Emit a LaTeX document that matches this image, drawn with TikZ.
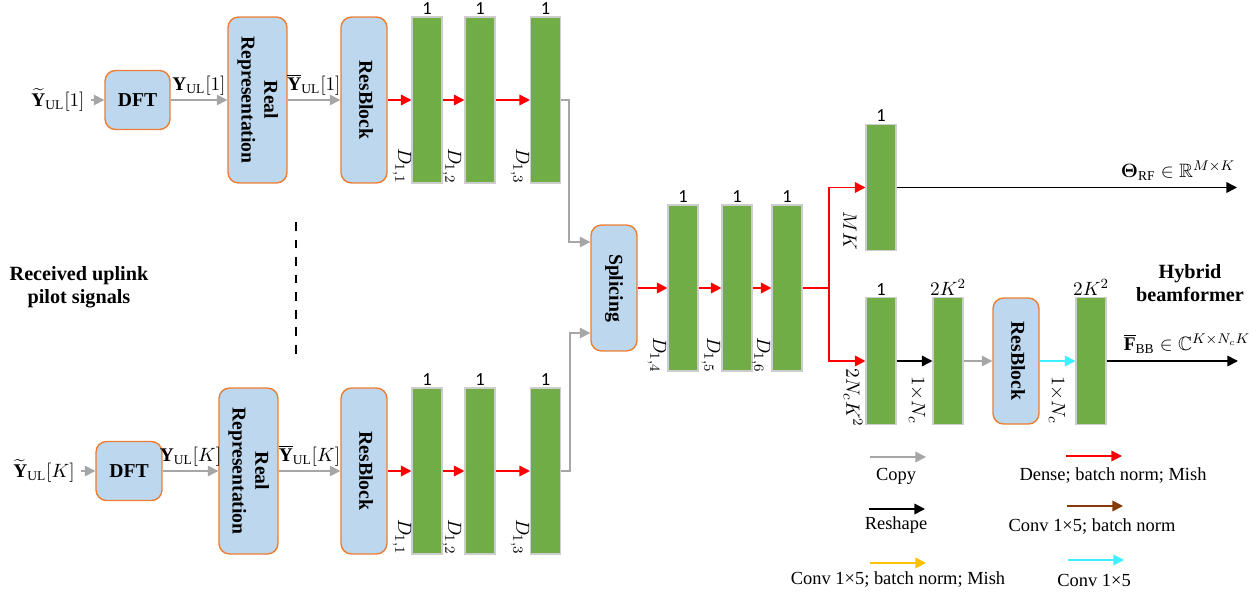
\documentclass[tikz,border=0pt]{standalone}
\usepackage{amsmath,amssymb}
\usepackage{graphicx}
\usepackage{fontspec}
\setmainfont{Liberation Serif}
\newfontfamily\numfont{Carlito}
\usepackage{tikz}
\usetikzlibrary{arrows.meta,positioning,calc}

\definecolor{boxblue}{RGB}{189,215,238}
\definecolor{boxorange}{RGB}{237,125,49}
\definecolor{layergreen}{RGB}{112,173,71}
\definecolor{layeredge}{RGB}{205,205,205}
\definecolor{copygray}{RGB}{166,166,166}
\definecolor{convbrown}{RGB}{132,60,12}
\definecolor{convorange}{RGB}{255,192,0}
\definecolor{convcyan}{RGB}{60,240,255}

\newcommand{\rottext}[1]{\rotatebox{-90}{\begin{tabular}{@{}c@{}}#1\end{tabular}}}

\begin{document}
\begin{tikzpicture}[x=0.02cm, y=-0.02cm, font=\fontsize{11}{13}\selectfont]
% Define styles
\tikzstyle{procbox} = [rectangle, draw=boxorange, fill=boxblue, rounded corners=6pt, line width=0.8pt, inner sep=0pt, font=\fontsize{11.2}{13}\selectfont\bfseries, align=center]
\tikzstyle{dftbox} = [procbox, minimum width=1.3cm, minimum height=1.18cm]
\tikzstyle{realbox} = [procbox, minimum width=1.18cm, minimum height=3.32cm]
\tikzstyle{resbox} = [procbox, minimum width=0.92cm, minimum height=3.32cm]
\tikzstyle{layer} = [rectangle, draw=layeredge, fill=layergreen, line width=0.6pt, minimum width=0.6cm, minimum height=3.32cm, inner sep=0pt]
\tikzstyle{shortlayer} = [layer, minimum height=2.53cm]
\tikzstyle{numtext} = [font=\fontsize{10.5}{12}\selectfont\numfont, inner sep=1pt]
\tikzstyle{dimtext} = [rotate=-90, inner sep=0pt]
\tikzstyle{edgetext} = [above, inner sep=2pt, text=black]
\tikzstyle{legendtext} = [font=\fontsize{10.5}{12}\selectfont, inner sep=0pt]
\tikzstyle{titletext} = [font=\fontsize{11.5}{13}\selectfont\bfseries, align=center]
\tikzstyle{arrowbase} = [line width=0.9pt, -{Triangle[length=6pt,width=6pt]}]
\tikzstyle{copyarrow} = [arrowbase, color=copygray]
\tikzstyle{densearrow} = [arrowbase, color=red]
\tikzstyle{reshapearrow} = [arrowbase, color=black]
\tikzstyle{convbnarrow} = [arrowbase, color=convbrown]
\tikzstyle{convbnmisharrow} = [arrowbase, color=convorange]
\tikzstyle{convarrow} = [arrowbase, color=convcyan]

\useasboundingbox (0,0) rectangle (1259,595);

% Upper user branch
\node (yt1) at (58,100) {$\widetilde{\mathbf{Y}}_{\mathrm{UL}}[1]$};
\node[dftbox] (dft1) at (137.5,100) {DFT};
\node[realbox] (real1) at (257.5,100) {\rottext{Real\\Representation}};
\node[resbox] (res1) at (364,100) {\rottext{ResBlock}};
\node[layer] (b11) at (427,100) {};
\node[layer] (b12) at (480,100) {};
\node[layer] (b13) at (545.5,100) {};

% Lower user branch
\node (yt2) at (44,471) {$\widetilde{\mathbf{Y}}_{\mathrm{UL}}[K]$};
\node[dftbox, minimum width=1.32cm] (dft2) at (129,471) {DFT};
\node[realbox] (real2) at (248.5,471) {\rottext{Real\\Representation}};
\node[resbox] (res2) at (364,471) {\rottext{ResBlock}};
\node[layer] (b21) at (427,471) {};
\node[layer] (b22) at (480,471) {};
\node[layer] (b23) at (545.5,471) {};

% Received signals
\node[titletext] (recv) at (79,287) {Received uplink\\pilot signals};
\coordinate (dashtop) at (296,222);
\coordinate (dashbot) at (296,355);
\draw[line width=1pt, dash pattern=on 5pt off 5pt] (dashtop) -- (dashbot);

% Splicing and shared layers
\node[resbox, minimum height=2.52cm] (spl) at (614,288) {\rottext{Splicing}};
\node[layer] (b4) at (683,288) {};
\node[layer] (b5) at (737,288) {};
\node[layer] (b6) at (787,288) {};
\coordinate (split) at (829,288);

% Hybrid beamformer heads
\node[shortlayer] (mk) at (881,187.5) {};
\node[shortlayer] (fa) at (881,361) {};
\node[shortlayer] (fb) at (948,361) {};
\node[resbox, minimum height=2.52cm] (res3) at (1016,361) {\rottext{ResBlock}};
\node[shortlayer] (fc) at (1091,361) {};
\coordinate (thetaend) at (1237,187.5);
\coordinate (fbbend) at (1238,361);
\node[titletext] (hybrid) at (1190,283) {Hybrid\\beamformer};

% Layer sizes
\foreach \b in {b11,b12,b13,b21,b22,b23,b4,b5,b6,mk,fa}
  \node[numtext, above=0pt of \b] (n\b) {1};
\node[inner sep=1pt, above=0pt of fb] (nfb) {$2K^2$};
\node[inner sep=1pt, above=0pt of fc] (nfc) {$2K^2$};
\node[dimtext] (d11) at (402,166) {$D_{1,1}$};
\node[dimtext] (d12) at (452,166) {$D_{1,2}$};
\node[dimtext] (d13) at (520,166) {$D_{1,3}$};
\node[dimtext] (d21) at (402,537) {$D_{1,1}$};
\node[dimtext] (d22) at (452,537) {$D_{1,2}$};
\node[dimtext] (d23) at (520,537) {$D_{1,3}$};
\node[dimtext] (d4) at (657,355) {$D_{1,4}$};
\node[dimtext] (d5) at (711,355) {$D_{1,5}$};
\node[dimtext] (d6) at (761,355) {$D_{1,6}$};
\node[dimtext] (dmk) at (850,231) {$MK$};
\node[dimtext] (dfa) at (853,398) {$2N_cK^2$};
\node[dimtext] (dfb) at (917,400) {$1{\times}N_c$};
\node[dimtext] (dfc) at (1057,400) {$1{\times}N_c$};

% Outputs
\node (thetalab) at (1178,171) {$\boldsymbol{\Theta}_{\mathrm{RF}}\in\mathbb{R}^{M\times K}$};
\node (fbblab) at (1187,344) {$\overline{\mathbf{F}}_{\mathrm{BB}}\in\mathbb{C}^{K\times N_cK}$};

% Connections
\draw[copyarrow] (yt1) -- (dft1);
\draw[copyarrow] (dft1) -- node[edgetext] (y1) {$\mathbf{Y}_{\mathrm{UL}}[1]$} (real1);
\draw[copyarrow] (real1) -- node[edgetext] (yb1) {$\overline{\mathbf{Y}}_{\mathrm{UL}}[1]$} (res1);
\draw[densearrow] (res1) -- (b11);
\draw[densearrow] (b11) -- (b12);
\draw[densearrow] (b12) -- (b13);
\draw[copyarrow] (yt2) -- (dft2);
\draw[copyarrow] (dft2) -- node[edgetext] (y2) {$\mathbf{Y}_{\mathrm{UL}}[K]$} (real2);
\draw[copyarrow] (real2) -- node[edgetext] (yb2) {$\overline{\mathbf{Y}}_{\mathrm{UL}}[K]$} (res2);
\draw[densearrow] (res2) -- (b21);
\draw[densearrow] (b21) -- (b22);
\draw[densearrow] (b22) -- (b23);
\draw[copyarrow, line width=0.8pt] (b13.east) -- ++(8,0) |- ([yshift=0.92cm]spl.west);
\draw[copyarrow, line width=0.8pt] (b23.east) -- ++(9,0) |- ([yshift=-0.9cm]spl.west);
\draw[densearrow] (spl) -- (b4);
\draw[densearrow] (b4) -- (b5);
\draw[densearrow] (b5) -- (b6);
\draw[densearrow] (b6.east) -- (split) |- (mk.west);
\draw[densearrow] (split) |- (fa.west);
\draw[reshapearrow] (mk.east) -- (thetaend);
\draw[reshapearrow] (fa) -- (fb);
\draw[copyarrow] (fb) -- (res3);
\draw[convarrow] (res3) -- (fc);
\draw[reshapearrow] (fc.east) -- (fbbend);

% Legend
\coordinate (lga1) at (870,457);  \coordinate (lga2) at (926,457);
\coordinate (lgb1) at (1066,456); \coordinate (lgb2) at (1122,456);
\coordinate (lgc1) at (869,509);  \coordinate (lgc2) at (925,509);
\coordinate (lgd1) at (1067,506); \coordinate (lgd2) at (1123,506);
\coordinate (lge1) at (870,563);  \coordinate (lge2) at (926,563);
\coordinate (lgf1) at (1068,560); \coordinate (lgf2) at (1124,560);
\draw[copyarrow] (lga1) -- (lga2);
\draw[densearrow] (lgb1) -- (lgb2);
\draw[reshapearrow] (lgc1) -- (lgc2);
\draw[convbnarrow] (lgd1) -- (lgd2);
\draw[convbnmisharrow] (lge1) -- (lge2);
\draw[convarrow] (lgf1) -- (lgf2);
\node[legendtext] (lgat) at (896,476) {Copy};
\node[legendtext] (lgbt) at (1113,476) {Dense; batch norm; Mish};
\node[legendtext] (lgct) at (896,525) {Reshape};
\node[legendtext] (lgdt) at (1092,527) {Conv 1×5; batch norm};
\node[legendtext] (lget) at (898,580) {Conv 1×5; batch norm; Mish};
\node[legendtext] (lgft) at (1094,580) {Conv 1×5};

\end{tikzpicture}
\end{document}
